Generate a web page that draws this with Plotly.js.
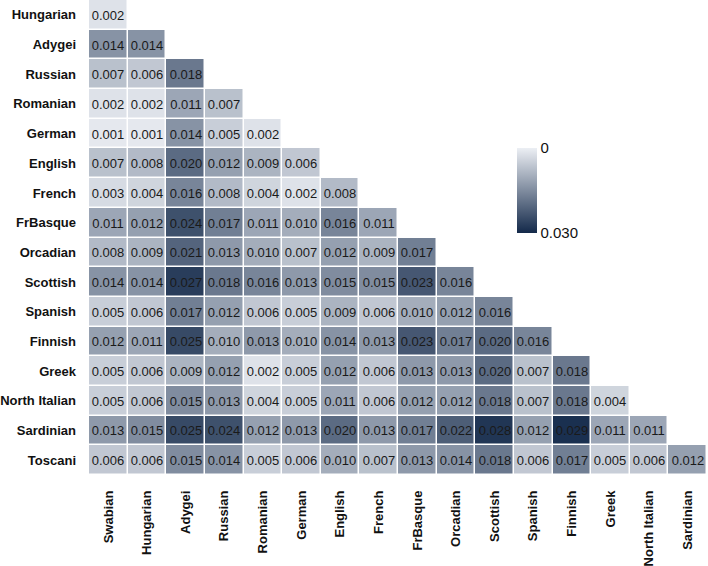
<!DOCTYPE html>
<html>
<head>
<meta charset="utf-8">
<script src="https://cdn.plot.ly/plotly-3.0.1.min.js"></script>
<style>html,body{margin:0;padding:0;background:#fff;}#chart{width:708px;height:566px;}</style>
</head>
<body>
<div id="chart"></div>
<script>
var columns = ["Swabian","Hungarian","Adygei","Russian","Romanian","German","English","French","FrBasque","Orcadian","Scottish","Spanish","Finnish","Greek","North Italian","Sardinian"];
var rows = ["Hungarian","Adygei","Russian","Romanian","German","English","French","FrBasque","Orcadian","Scottish","Spanish","Finnish","Greek","North Italian","Sardinian","Toscani"];

var rHungarian    = [0.002];
var rAdygei       = [0.014,0.014];
var rRussian      = [0.007,0.006,0.018];
var rRomanian     = [0.002,0.002,0.011,0.007];
var rGerman       = [0.001,0.001,0.014,0.005,0.002];
var rEnglish      = [0.007,0.008,0.020,0.012,0.009,0.006];
var rFrench       = [0.003,0.004,0.016,0.008,0.004,0.002,0.008];
var rFrBasque     = [0.011,0.012,0.024,0.017,0.011,0.010,0.016,0.011];
var rOrcadian     = [0.008,0.009,0.021,0.013,0.010,0.007,0.012,0.009,0.017];
var rScottish     = [0.014,0.014,0.027,0.018,0.016,0.013,0.015,0.015,0.023,0.016];
var rSpanish      = [0.005,0.006,0.017,0.012,0.006,0.005,0.009,0.006,0.010,0.012,0.016];
var rFinnish      = [0.012,0.011,0.025,0.010,0.013,0.010,0.014,0.013,0.023,0.017,0.020,0.016];
var rGreek        = [0.005,0.006,0.009,0.012,0.002,0.005,0.012,0.006,0.013,0.013,0.020,0.007,0.018];
var rNorthItalian = [0.005,0.006,0.015,0.013,0.004,0.005,0.011,0.006,0.012,0.012,0.018,0.007,0.018,0.004];
var rSardinian    = [0.013,0.015,0.025,0.024,0.012,0.013,0.020,0.013,0.017,0.022,0.028,0.012,0.029,0.011,0.011];
var rToscani      = [0.006,0.006,0.015,0.014,0.005,0.006,0.010,0.007,0.013,0.014,0.018,0.006,0.017,0.005,0.006,0.012];

var colorbarTickLabels = ["0","0.030"];
var colorMin = 0, colorMax = 0.030;

var matrix = [rHungarian,rAdygei,rRussian,rRomanian,rGerman,rEnglish,rFrench,rFrBasque,rOrcadian,rScottish,rSpanish,rFinnish,rGreek,rNorthItalian,rSardinian,rToscani];

// pad to full width with nulls (upper triangle empty)
var z = [], txt = [];
matrix.forEach(function(r){
  var zr = [], tr = [];
  for (var j = 0; j < columns.length; j++) {
    if (j < r.length) { zr.push(-r[j]); tr.push(r[j].toFixed(3)); }
    else { zr.push(null); tr.push(""); }
  }
  z.push(zr); txt.push(tr);
});

var trace = {
  type: 'heatmap',
  x: columns,
  y: rows,
  z: z,
  text: txt,
  texttemplate: '%{text}',
  textfont: {family: 'Liberation Sans, Arial, sans-serif', size: 13, color: '#1a1a1a'},
  hoverinfo: 'skip',
  xgap: 1.5,
  ygap: 1.5,
  zmin: -colorMax,
  zmax: -colorMin,
  colorscale: [[0, '#13294a'], [1, '#eceff4']],
  colorbar: {
    x: 0.6926, xanchor: 'left', xref: 'paper',
    y: 0.599, yanchor: 'middle',
    len: 0.179, lenmode: 'fraction',
    thickness: 20,
    xpad: 0, ypad: 0,
    outlinewidth: 0,
    tickvals: [-colorMin, -colorMax],
    ticktext: colorbarTickLabels,
    ticks: '',
    tickfont: {family: 'Liberation Sans, Arial, sans-serif', size: 15, color: '#111'}
  }
};

var layout = {
  width: 708, height: 566,
  margin: {l: 89, r: 1, t: 0, b: 91},
  paper_bgcolor: '#fff',
  plot_bgcolor: '#fff',
  xaxis: {
    type: 'category',
    tickangle: -90,
    showgrid: false, zeroline: false, showline: false,
    ticks: '', ticklabelstandoff: 12,
    tickfont: {family: 'Liberation Sans, Arial, sans-serif', size: 13, color: '#111', weight: 'bold'}
  },
  yaxis: {
    type: 'category',
    autorange: 'reversed',
    showgrid: false, zeroline: false, showline: false,
    ticks: '', ticklabelstandoff: 12,
    tickfont: {family: 'Liberation Sans, Arial, sans-serif', size: 13, color: '#111', weight: 'bold'}
  }
};

Plotly.newPlot('chart', [trace], layout, {displayModeBar: false, staticPlot: true});
</script>
</body>
</html>
